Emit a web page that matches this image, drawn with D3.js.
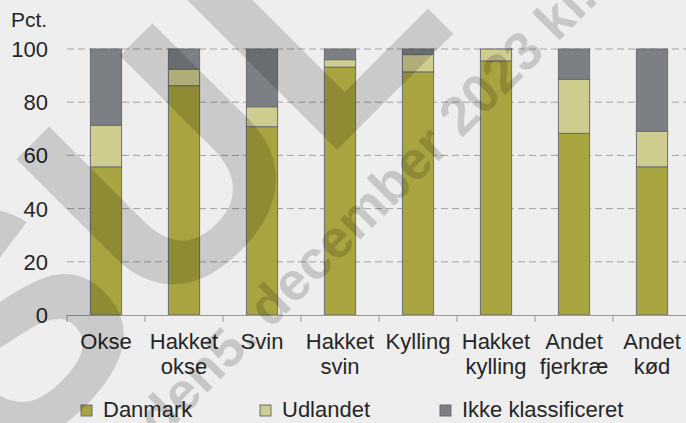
<!DOCTYPE html>
<html lang="da">
<head>
<meta charset="utf-8">
<title>Oprindelse af kød</title>
<script src="https://cdn.jsdelivr.net/npm/d3@7"></script>
<style>
  body { margin: 0; background: #eeeeee; }
  svg text { font-family: "Liberation Sans", Arial, sans-serif; fill: #262626; }
</style>
</head>
<body>
<script>
// Categories (lines of each x label)
var categories = [["Okse"], ["Hakket", "okse"], ["Svin"], ["Hakket", "svin"],
                  ["Kylling"], ["Hakket", "kylling"], ["Andet", "fjerkræ"], ["Andet", "kød"]];

// Series values, pct.
var danmark  = [55.7, 86.2, 70.8, 93.2, 91.4, 95.5, 68.3, 55.7];
var udlandet = [15.6, 6.2, 7.5, 2.8, 6.5, 4.5, 20.3, 13.4];
var ikke     = [28.7, 7.6, 21.7, 4.0, 2.1, 0.0, 11.4, 30.9];

var seriesNames = ["Danmark", "Udlandet", "Ikke klassificeret"];
var yTicks = [0, 20, 40, 60, 80, 100];

var w = 686, h = 423;
var colors = ["#a8a43f", "#cfcc8f", "#7c7f84"];

var svg = d3.select("body").append("svg")
  .attr("width", w)
  .attr("height", h);

svg.append("rect").attr("width", w).attr("height", h).attr("fill", "#eeeeee");

//Build table for stacking
var table = categories.map(function(c, i) {
  return { key: i, Danmark: danmark[i], Udlandet: udlandet[i], "Ikke klassificeret": ikke[i] };
});
var stacked = d3.stack().keys(seriesNames)(table);

//Scales
var xScale = d3.scaleBand()
  .domain(d3.range(categories.length))
  .range([67, 691])
  .paddingInner(0.6)
  .paddingOuter(0.3);

var yScale = d3.scaleLinear()
  .domain([0, 100])
  .range([315, 49]);

//Gridlines
svg.append("g")
  .selectAll("line")
  .data(yTicks.filter(function(d) { return d > 0; }))
  .enter().append("line")
  .attr("x1", 67).attr("x2", w)
  .attr("y1", function(d) { return yScale(d); })
  .attr("y2", function(d) { return yScale(d); })
  .attr("stroke", "#a3a3a3")
  .attr("stroke-width", 1)
  .attr("stroke-dasharray", "7,4");

//Y tick labels
svg.append("g")
  .selectAll("text")
  .data(yTicks)
  .enter().append("text")
  .attr("x", 48)
  .attr("y", function(d) { return yScale(d); })
  .attr("dy", "0.36em")
  .attr("text-anchor", "end")
  .attr("font-size", 22)
  .text(function(d) { return d; });

svg.append("text")
  .attr("x", 11).attr("y", 27)
  .attr("font-size", 21)
  .text("Pct.");

//Bars
svg.append("g")
  .selectAll("g")
  .data(stacked)
  .enter().append("g")
  .attr("fill", function(d, i) { return colors[i]; })
  .selectAll("rect")
  .data(function(d) { return d; })
  .enter().append("rect")
  .filter(function(d) { return d[1] - d[0] > 0; })
  .attr("x", function(d) { return xScale(d.data.key); })
  .attr("y", function(d) { return yScale(d[1]); })
  .attr("width", xScale.bandwidth())
  .attr("height", function(d) { return yScale(d[0]) - yScale(d[1]); })
  .attr("stroke", "#6c6d70")
  .attr("stroke-width", 1);

//X axis
var xAxis = svg.append("g");
xAxis.append("line")
  .attr("x1", 67).attr("x2", w)
  .attr("y1", 315.5).attr("y2", 315.5)
  .attr("stroke", "#9a9a9a");
xAxis.selectAll("line.tick")
  .data(d3.range(categories.length))
  .enter().append("line")
  .attr("class", "tick")
  .attr("x1", function(d) { return xScale(d) - xScale.step() * 0.3; })
  .attr("x2", function(d) { return xScale(d) - xScale.step() * 0.3; })
  .attr("y1", 315).attr("y2", 322)
  .attr("stroke", "#9a9a9a");

xAxis.selectAll("text.cat")
  .data(categories)
  .enter().append("text")
  .attr("class", "cat")
  .attr("text-anchor", "middle")
  .attr("font-size", 22)
  .attr("x", function(d, i) { return xScale(i) + xScale.bandwidth() / 2; })
  .attr("y", 349)
  .selectAll("tspan")
  .data(function(d) { return d; })
  .enter().append("tspan")
  .attr("x", function() { return d3.select(this.parentNode).attr("x"); })
  .attr("dy", function(d, i) { return i === 0 ? 0 : 25; })
  .text(function(d) { return d; });

//Legend
var legendX = [81, 260, 440];
var legend = svg.append("g")
  .selectAll("g")
  .data(seriesNames)
  .enter().append("g")
  .attr("transform", function(d, i) { return "translate(" + legendX[i] + ",405)"; });
legend.append("rect")
  .attr("width", 11).attr("height", 11)
  .attr("fill", function(d, i) { return colors[i]; })
  .attr("stroke", "#6c6d70");
legend.append("text")
  .attr("x", 22).attr("y", 12)
  .attr("font-size", 22)
  .text(function(d) { return d; });

//Watermark (translucent grey over the chart)
var wm = svg.append("g")
  .style("pointer-events", "none");

var big = wm.append("g")
  .attr("transform", "translate(322,165) rotate(-45)");
big.append("text")
  .attr("font-size", 320).attr("font-weight", "bold")
  .attr("text-anchor", "end")
  .style("fill", "#000").style("fill-opacity", 0.15)
  .text("SU");
big.append("text")
  .attr("font-size", 320).attr("font-weight", "bold")
  .style("fill", "#000").style("fill-opacity", 0.15)
  .text("L");

var date = wm.append("g")
  .attr("transform", "translate(228,372) rotate(-45)");
date.append("text")
  .attr("font-size", 54).attr("font-weight", "bold")
  .attr("text-anchor", "end")
  .style("fill", "#000").style("fill-opacity", 0.16)
  .text("den ");
date.append("text")
  .attr("font-size", 54).attr("font-weight", "bold")
  .style("fill", "#000").style("fill-opacity", 0.16)
  .text("5. december 2023 kl.");
</script>
</body>
</html>
